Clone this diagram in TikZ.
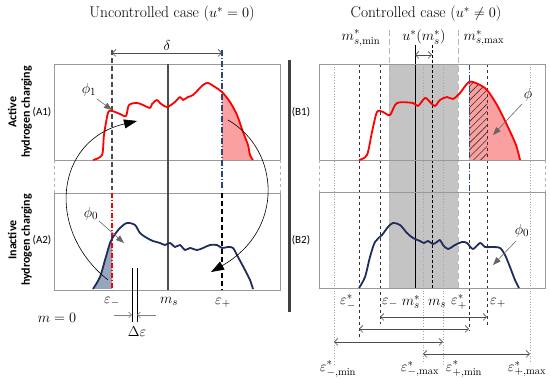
\documentclass[tikz,border=0pt]{standalone}
\usepackage{amsmath,amssymb}
\usepackage{fontspec}
\usepackage{tikz}
\newfontfamily\calibri{Carlito}
\usetikzlibrary{arrows.meta, patterns.meta, calc}

\definecolor{navyline}{RGB}{31,45,92}
\definecolor{dashblue}{RGB}{40,72,120}
\definecolor{pinkfill}{RGB}{250,160,160}
\definecolor{steelfill}{RGB}{150,166,188}
\definecolor{bandgray}{RGB}{196,196,196}

\begin{document}
\begin{tikzpicture}[
    x=1pt, y=-1pt,
    frame/.style={draw=gray!80, line width=0.8pt},
    gapline/.style={draw=gray!60, dashed, line width=0.6pt},
    redcurve/.style={draw=red, line width=1.8pt, line join=round},
    bluecurve/.style={draw=navyline, line width=1.8pt, line join=round},
    loopto/.style={draw=black, line width=0.6pt, -{Triangle[length=13pt, width=9pt]}},
    pointer/.style={draw=black!60, line width=0.6pt, -{Triangle[length=8pt, width=6pt]}},
    dimarr/.style={draw=black!70, line width=0.7pt,
      {Straight Barb[length=3.5pt, width=7pt]}-{Straight Barb[length=3.5pt, width=7pt]}},
    dotline/.style={draw=gray!70, dotted, line width=0.7pt},
    thindash/.style={draw=black!80, dashed, line width=0.6pt},
    bandedge/.style={draw=gray!55, dash pattern=on 6pt off 3pt, line width=0.8pt},
    lbl/.style={font=\fontsize{15}{17}\selectfont, inner sep=0.5pt},
    side/.style={font=\calibri\bfseries\fontsize{12}{13.5}\selectfont, rotate=90, align=center},
    tag/.style={font=\calibri\fontsize{11}{12}\selectfont}
  ]
  \useasboundingbox (0,0) rectangle (550,379);

  % Titles
  \node[lbl, font=\fontsize{15.5}{17}\selectfont] (tleft)  at (172,14) {Uncontrolled case ($u^{*}=0$)};
  \node[lbl, font=\fontsize{15.5}{17}\selectfont] (tright) at (426,14) {Controlled case ($u^{*}\neq 0$)};

  % Side labels
  \node[side] (act)   at (20,112) {Active\\hydrogen charging};
  \node[side] (inact) at (20,240) {Inactive\\hydrogen charging};
  \node[tag] (a1) at (42,112) {(A1)};
  \node[tag] (a2) at (42,240) {(A2)};
  \node[tag] (b1) at (301,112) {(B1)};
  \node[tag] (b2) at (301,240) {(B2)};

  % Separator
  \draw[line width=3pt, black!75] (289,60) -- (289,312);

  % ---------------- Left: uncontrolled ----------------
  \path[save path=\curveAone] plot[smooth, tension=0.5] coordinates {
    (93,160) (102,155) (104,135) (108,113) (112,111) (120,114) (126,116) (129,105)
    (137,103) (143,105) (150,108) (152,104) (157,100) (160,103) (167,107) (175,102)
    (180,97) (183,100) (188,97) (193,95) (203,85) (208,83) (215,87) (222,92)
    (230,102) (237,115) (243,132) (248,145) (250,155) (253,160)};
  \path[save path=\curveAtwo] plot[smooth, tension=0.5] coordinates {
    (93,289) (100,277) (105,260) (110,243) (113,237) (120,228) (127,223) (135,225)
    (140,233) (147,238) (153,241) (160,243) (165,245) (170,243) (175,247) (180,245)
    (185,250) (190,248) (197,250) (203,248) (210,245) (217,245) (222,248) (228,247)
    (233,248) (238,257) (245,270) (250,280) (253,289)};

  \begin{scope}
    \clip (222,60) rectangle (262,160);
    \fill[pinkfill, use path=\curveAone];
  \end{scope}
  \begin{scope}
    \clip (88,190) rectangle (112,290);
    \fill[steelfill, use path=\curveAtwo];
  \end{scope}

  % boxes A1, A2
  \draw[frame] (54,64) rectangle (280,160);
  \draw[frame] (54,193) rectangle (280,290);
  \draw[gapline] (54,160) -- (54,193);
  \draw[gapline] (280,160) -- (280,193);
  \draw[line width=1.3pt, black!70] (168,64) -- (168,290);

  % epsilon lines
  \draw[black!70, line width=1.2pt, dash pattern=on 5pt off 3pt] (112,50) -- (112,190);
  \draw[red, line width=1.2pt, dash pattern=on 5pt off 2pt on 1pt off 2pt] (112,193) -- (112,290);
  \draw[dashblue, line width=1.2pt, dash pattern=on 6pt off 2pt on 1pt off 2pt] (222,50) -- (222,190);
  \draw[black, line width=1.1pt, dash pattern=on 5pt off 3pt] (222,193) -- (222,290);

  \draw[redcurve, use path=\curveAone];
  \draw[bluecurve, use path=\curveAtwo];

  % delta
  \draw[dimarr] (112,53) -- node[lbl, above=2pt] (delta) {$\delta$} (222,53);

  % phi pointers
  \node[lbl] (phia1) at (89,90) {$\phi_{1}$};
  \draw[pointer] (97,99) -- (112,110);
  \node[lbl] (phia0) at (91,214) {$\phi_{0}$};
  \draw[pointer] (99,221) -- (124,243);

  % transfer loops
  \draw[loopto] (108,280) .. controls (45,230) and (55,140) .. (137,121);
  \draw[loopto] (228,120) .. controls (280,150) and (285,230) .. (211,272);

  % axis labels
  \node[lbl] (epsmA) at (112,302) {$\varepsilon_{-}$};
  \node[lbl] (msA)   at (169,301) {$m_{s}$};
  \node[lbl] (epspA) at (223,303) {$\varepsilon_{+}$};
  \node[lbl] (mzero) at (57,318) {$m=0$};

  % Delta epsilon
  \draw[black, line width=0.6pt] (132,268) -- (132,322);
  \draw[black, line width=0.6pt] (137,268) -- (137,322);
  \draw[gray, line width=0.6pt, -{Straight Barb[length=3pt, width=6pt]}] (114,315) -- (132,315);
  \draw[gray, line width=0.6pt, -{Straight Barb[length=3pt, width=6pt]}] (156,315) -- (137,315);
  \node[lbl] (deps) at (137,332) {$\Delta\varepsilon$};

  % ---------------- Right: controlled ----------------
  \fill[bandgray] (389,64) rectangle (458,288);

  \path[save path=\curveBone] plot[smooth, tension=0.5] coordinates {
    (359,160) (367,155) (372,132) (377,112) (383,112) (390,115) (397,103) (413,103)
    (418,106) (425,98) (430,102) (435,106) (440,100) (447,97) (453,99) (460,93)
    (469,82) (478,84) (487,90) (497,105) (507,125) (516,145) (520,160)};
  \path[save path=\curveBtwo] plot[smooth, tension=0.5] coordinates {
    (359,288) (365,277) (370,257) (375,242) (382,235) (388,227) (393,223) (400,225)
    (407,233) (413,238) (420,241) (424,243) (428,241) (433,244) (437,242) (440,240)
    (443,245) (448,249) (455,245) (462,242) (467,243) (473,249) (480,243) (485,247)
    (492,247) (500,248) (505,255) (510,267) (515,280) (519,288)};

  \begin{scope}
    \clip (469,60) rectangle (530,160);
    \fill[pinkfill, use path=\curveBone];
  \end{scope}
  \begin{scope}
    \clip (469,60) rectangle (487,160);
    \fill[pattern={Lines[angle=45, distance=5pt, line width=0.6pt]}, pattern color=black!80,
          use path=\curveBone];
  \end{scope}

  % grid lines
  \draw[dotline] (334,64) -- (334,366);
  \draw[dotline] (423,64) -- (423,362);
  \draw[dotline] (443,64) -- (443,366);
  \draw[dotline] (530,64) -- (530,362);
  \draw[thindash] (359,64) -- (359,340);
  \draw[thindash] (380,64) -- (380,324);
  \draw[bandedge] (389,30) -- (389,288);
  \draw[bandedge] (458,30) -- (458,288);
  \draw[black, line width=0.8pt] (415,45) -- (415,288);
  \draw[black, densely dashed, line width=0.8pt] (432,45) -- (432,288);
  \draw[dashblue, line width=1pt, dash pattern=on 6pt off 2pt on 1pt off 2pt] (469,64) -- (469,192);
  \draw[thindash] (469,192) -- (469,331);
  \draw[thindash] (487,64) -- (487,326);

  % boxes B1, B2
  \draw[frame] (319,64) rectangle (545,160);
  \draw[frame] (319,192) rectangle (545,288);
  \draw[gapline] (319,160) -- (319,192);
  \draw[gapline] (545,160) -- (545,192);

  \draw[redcurve, use path=\curveBone];
  \draw[bluecurve, use path=\curveBtwo];

  % top labels
  \node[lbl] (msmin) at (361,38) {$m^{*}_{s,\mathrm{min}}$};
  \node[lbl] (ustar) at (424,37) {$u^{*}(m^{*}_{s})$};
  \node[lbl] (msmax) at (484,38) {$m^{*}_{s,\mathrm{max}}$};
  \draw[dimarr] (415,55) -- (432,55);

  % phi pointers
  \node[lbl] (phib1) at (528,95) {$\phi$};
  \draw[pointer] (522,104) -- (493,135);
  \node[lbl] (phib0) at (522,231) {$\phi_{0}$};
  \draw[pointer] (516,241) -- (493,265);

  % axis labels
  \node[lbl] (epsmsB) at (348,302) {$\varepsilon^{*}_{-}$};
  \node[lbl] (epsmB)  at (390,303) {$\varepsilon_{-}$};
  \node[lbl] (mssB)   at (411,302) {$m^{*}_{s}$};
  \node[lbl] (msB)    at (437,303) {$m_{s}$};
  \node[lbl] (epspsB) at (459,302) {$\varepsilon^{*}_{+}$};
  \node[lbl] (eppB)   at (498,303) {$\varepsilon_{+}$};

  % ranges
  \draw[dimarr] (380,317) -- (487,317);
  \draw[dimarr] (359,329) -- (469,329);
  \draw[dimarr] (334,342) -- (443,342);
  \draw[dimarr] (423,354) -- (530,354);

  \node[lbl] (emmin) at (338,369) {$\varepsilon^{*}_{-,\mathrm{min}}$};
  \node[lbl] (emmax) at (420,369) {$\varepsilon^{*}_{-,\mathrm{max}}$};
  \node[lbl] (epmin) at (464,369) {$\varepsilon^{*}_{+,\mathrm{min}}$};
  \node[lbl] (epmax) at (527,369) {$\varepsilon^{*}_{+,\mathrm{max}}$};

\end{tikzpicture}
\end{document}
